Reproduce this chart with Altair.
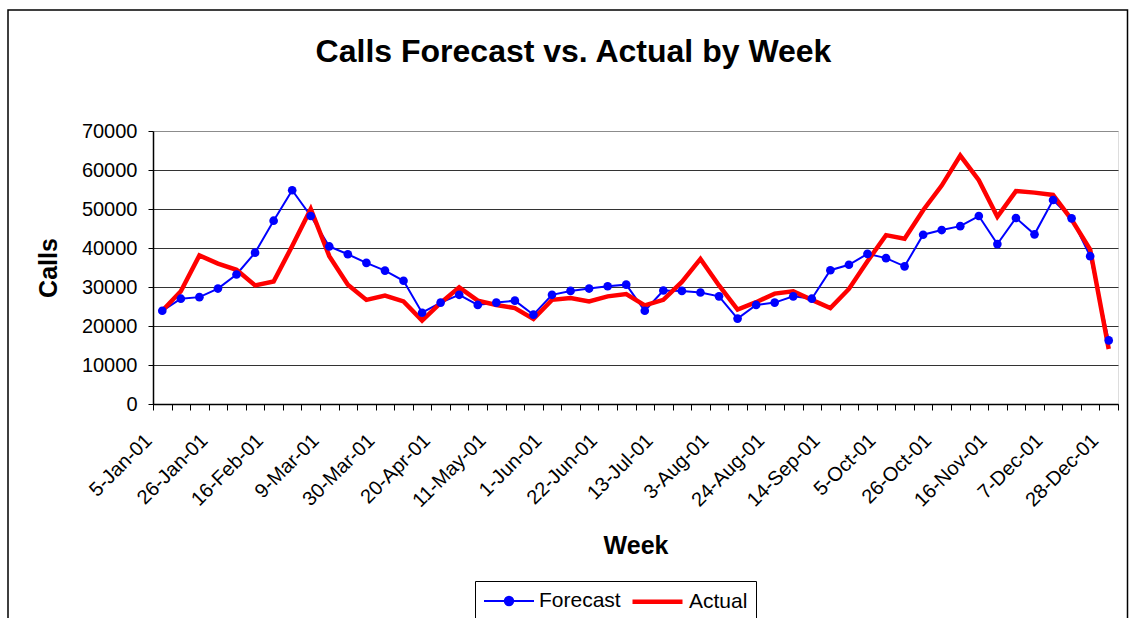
import json
import altair as alt
import pandas as pd

# ---- data -------------------------------------------------------------
WEEKS = [f"{d.day}-{d.strftime('%b')}-{d.strftime('%y')}"
         for d in pd.date_range("2001-01-05", periods=52, freq="7D")]

TICK_LABELS = ["5-Jan-01", "26-Jan-01", "16-Feb-01", "9-Mar-01", "30-Mar-01",
               "20-Apr-01", "11-May-01", "1-Jun-01", "22-Jun-01", "13-Jul-01",
               "3-Aug-01", "24-Aug-01", "14-Sep-01", "5-Oct-01", "26-Oct-01",
               "16-Nov-01", "7-Dec-01", "28-Dec-01"]

FORECAST = [23900, 27000, 27400, 29600, 33200, 38800, 47000, 54800, 48200, 40400,
            38400, 36200, 34200, 31600, 23400, 26000, 28000, 25400, 26000, 26500,
            22900, 28000, 29000, 29600, 30200, 30600, 23900, 29100, 29000, 28600,
            27600, 21900, 25400, 26000, 27600, 27000, 34300, 35700, 38500, 37400,
            35300, 43400, 44600, 45600, 48200, 41000, 47700, 43500, 52300, 47600,
            37900, 16300]

ACTUAL = [23900, 28900, 38100, 36000, 34400, 30400, 31400, 40500, 50000, 37900,
          30600, 26700, 27800, 26300, 21400, 25900, 29900, 26500, 25400, 24600,
          21800, 26700, 27200, 26300, 27600, 28200, 25300, 26700, 31300, 37200,
          30400, 24200, 26100, 28300, 28900, 26700, 24600, 29500, 36600, 43300,
          42400, 49700, 56000, 63700, 57400, 48000, 54600, 54200, 53600, 47300,
          39600, 14100]

SERIES = ["Forecast", "Actual"]
COLORS = ["#0000FF", "#FF0000"]
Y_TICKS = [0, 10000, 20000, 30000, 40000, 50000, 60000, 70000]

df = pd.DataFrame({
    "week": WEEKS * 2,
    "series": ["Forecast"] * len(FORECAST) + ["Actual"] * len(ACTUAL),
    "calls": FORECAST + ACTUAL,
})

FONT = "Liberation Sans"
W, H = 965, 273

label_expr = f"indexof({json.dumps(TICK_LABELS)}, datum.value) >= 0 ? datum.value : ''"

x_enc = alt.X(
    "week:N", sort=WEEKS, bandPosition=0.5,
    scale=alt.Scale(type="band", paddingInner=0, paddingOuter=0),
    axis=alt.Axis(
        title="Week", tickBand="extent", grid=False,
        labelAngle=-45, labelAlign="right", labelBaseline="top",
        labelOffset=-21, labelPadding=20, labelOverlap=False, labelBound=False,
        labelExpr=label_expr, labelFont=FONT, labelFontSize=20, labelColor="black",
        tickSize=6, tickColor="black", domainColor="black", domainWidth=1.5,
        titleFont=FONT, titleFontSize=25, titleFontWeight="bold", titleColor="black",
        titleX=W / 2, titleY=141, titleAlign="center", titleBaseline="middle",
    ),
)

y_enc = alt.Y(
    "calls:Q",
    scale=alt.Scale(domain=[0, 70000], nice=False),
    axis=alt.Axis(
        title="Calls", values=Y_TICKS, format="d",
        labelFont=FONT, labelFontSize=20, labelColor="black", labelPadding=11,
        tickSize=5, tickColor="black", domainColor="black", domainWidth=1.5,
        gridColor={"condition": {"test": "datum.value === 70000", "value": "#8c8c8c"},
                   "value": "#333333"},
        gridWidth=1.2,
        titleFont=FONT, titleFontSize=25, titleFontWeight="bold", titleColor="black",
        titleX=-105, titleY=H / 2, titleAngle=-90, titleAlign="center",
        titleBaseline="middle",
    ),
)

base = alt.Chart(df)

frame = alt.Chart(alt.Data(values=[{"k": 1}])).mark_rect(
    fillOpacity=0, stroke="black", strokeWidth=1.5
).encode(
    x=alt.value(-145), x2=alt.value(974.5), y=alt.value(-121), y2=alt.value(620)
)

blue_line = base.transform_filter("datum.series == 'Forecast'").mark_line(
    color=COLORS[0], strokeWidth=2
).encode(x=x_enc, y=y_enc)

red_line = base.transform_filter("datum.series == 'Actual'").mark_line(
    color=COLORS[1], strokeWidth=4.5
).encode(x=x_enc, y=y_enc)

blue_pts = base.transform_filter("datum.series == 'Forecast'").mark_point(
    filled=True, color=COLORS[0], size=75, opacity=1
).encode(x=x_enc, y=y_enc)

LINE_DOT = "M-2.5,0H2.5M-0.42,0A0.42,0.42,0,1,1,0.42,0A0.42,0.42,0,1,1,-0.42,0Z"
LINE_ONLY = "M-2.5,0H2.5"

leg = alt.Legend(
    title=None, orient="none", legendX=322, legendY=450, direction="horizontal",
    strokeColor="black", fillColor="white", padding=8, cornerRadius=0,
    labelFont=FONT, labelFontSize=21, labelColor="black", labelOffset=19,
    symbolOffset=15, columnPadding=2, symbolSize=400, symbolOpacity=1,
)

legend_layer = base.mark_point(filled=True, opacity=0).encode(
    x=x_enc, y=y_enc,
    fill=alt.Fill("series:N", scale=alt.Scale(domain=SERIES, range=COLORS), legend=leg),
    stroke=alt.Stroke("series:N", scale=alt.Scale(domain=SERIES, range=COLORS), legend=leg),
    shape=alt.Shape("series:N", scale=alt.Scale(domain=SERIES, range=[LINE_DOT, LINE_ONLY]), legend=leg),
    strokeWidth=alt.StrokeWidth("series:N", scale=alt.Scale(domain=SERIES, range=[2, 4.5]), legend=leg),
)

chart = alt.layer(frame, blue_line, red_line, blue_pts, legend_layer).properties(
    width=W, height=H,
    title=alt.TitleParams(
        "Calls Forecast vs. Actual by Week", font=FONT, fontSize=32,
        fontWeight="bold", color="black", anchor="middle", frame="group", dx=-62,
        baseline="alphabetic", offset=-85,
    ),
    padding={"left": 153, "top": 131, "right": 11, "bottom": 214},
    autosize=alt.AutoSizeParams(type="none"),
).configure_view(
    stroke="#8c8c8c", strokeWidth=2
).configure(background="white")

chart.save("out.html", embed_options={"renderer": "svg", "actions": False})
